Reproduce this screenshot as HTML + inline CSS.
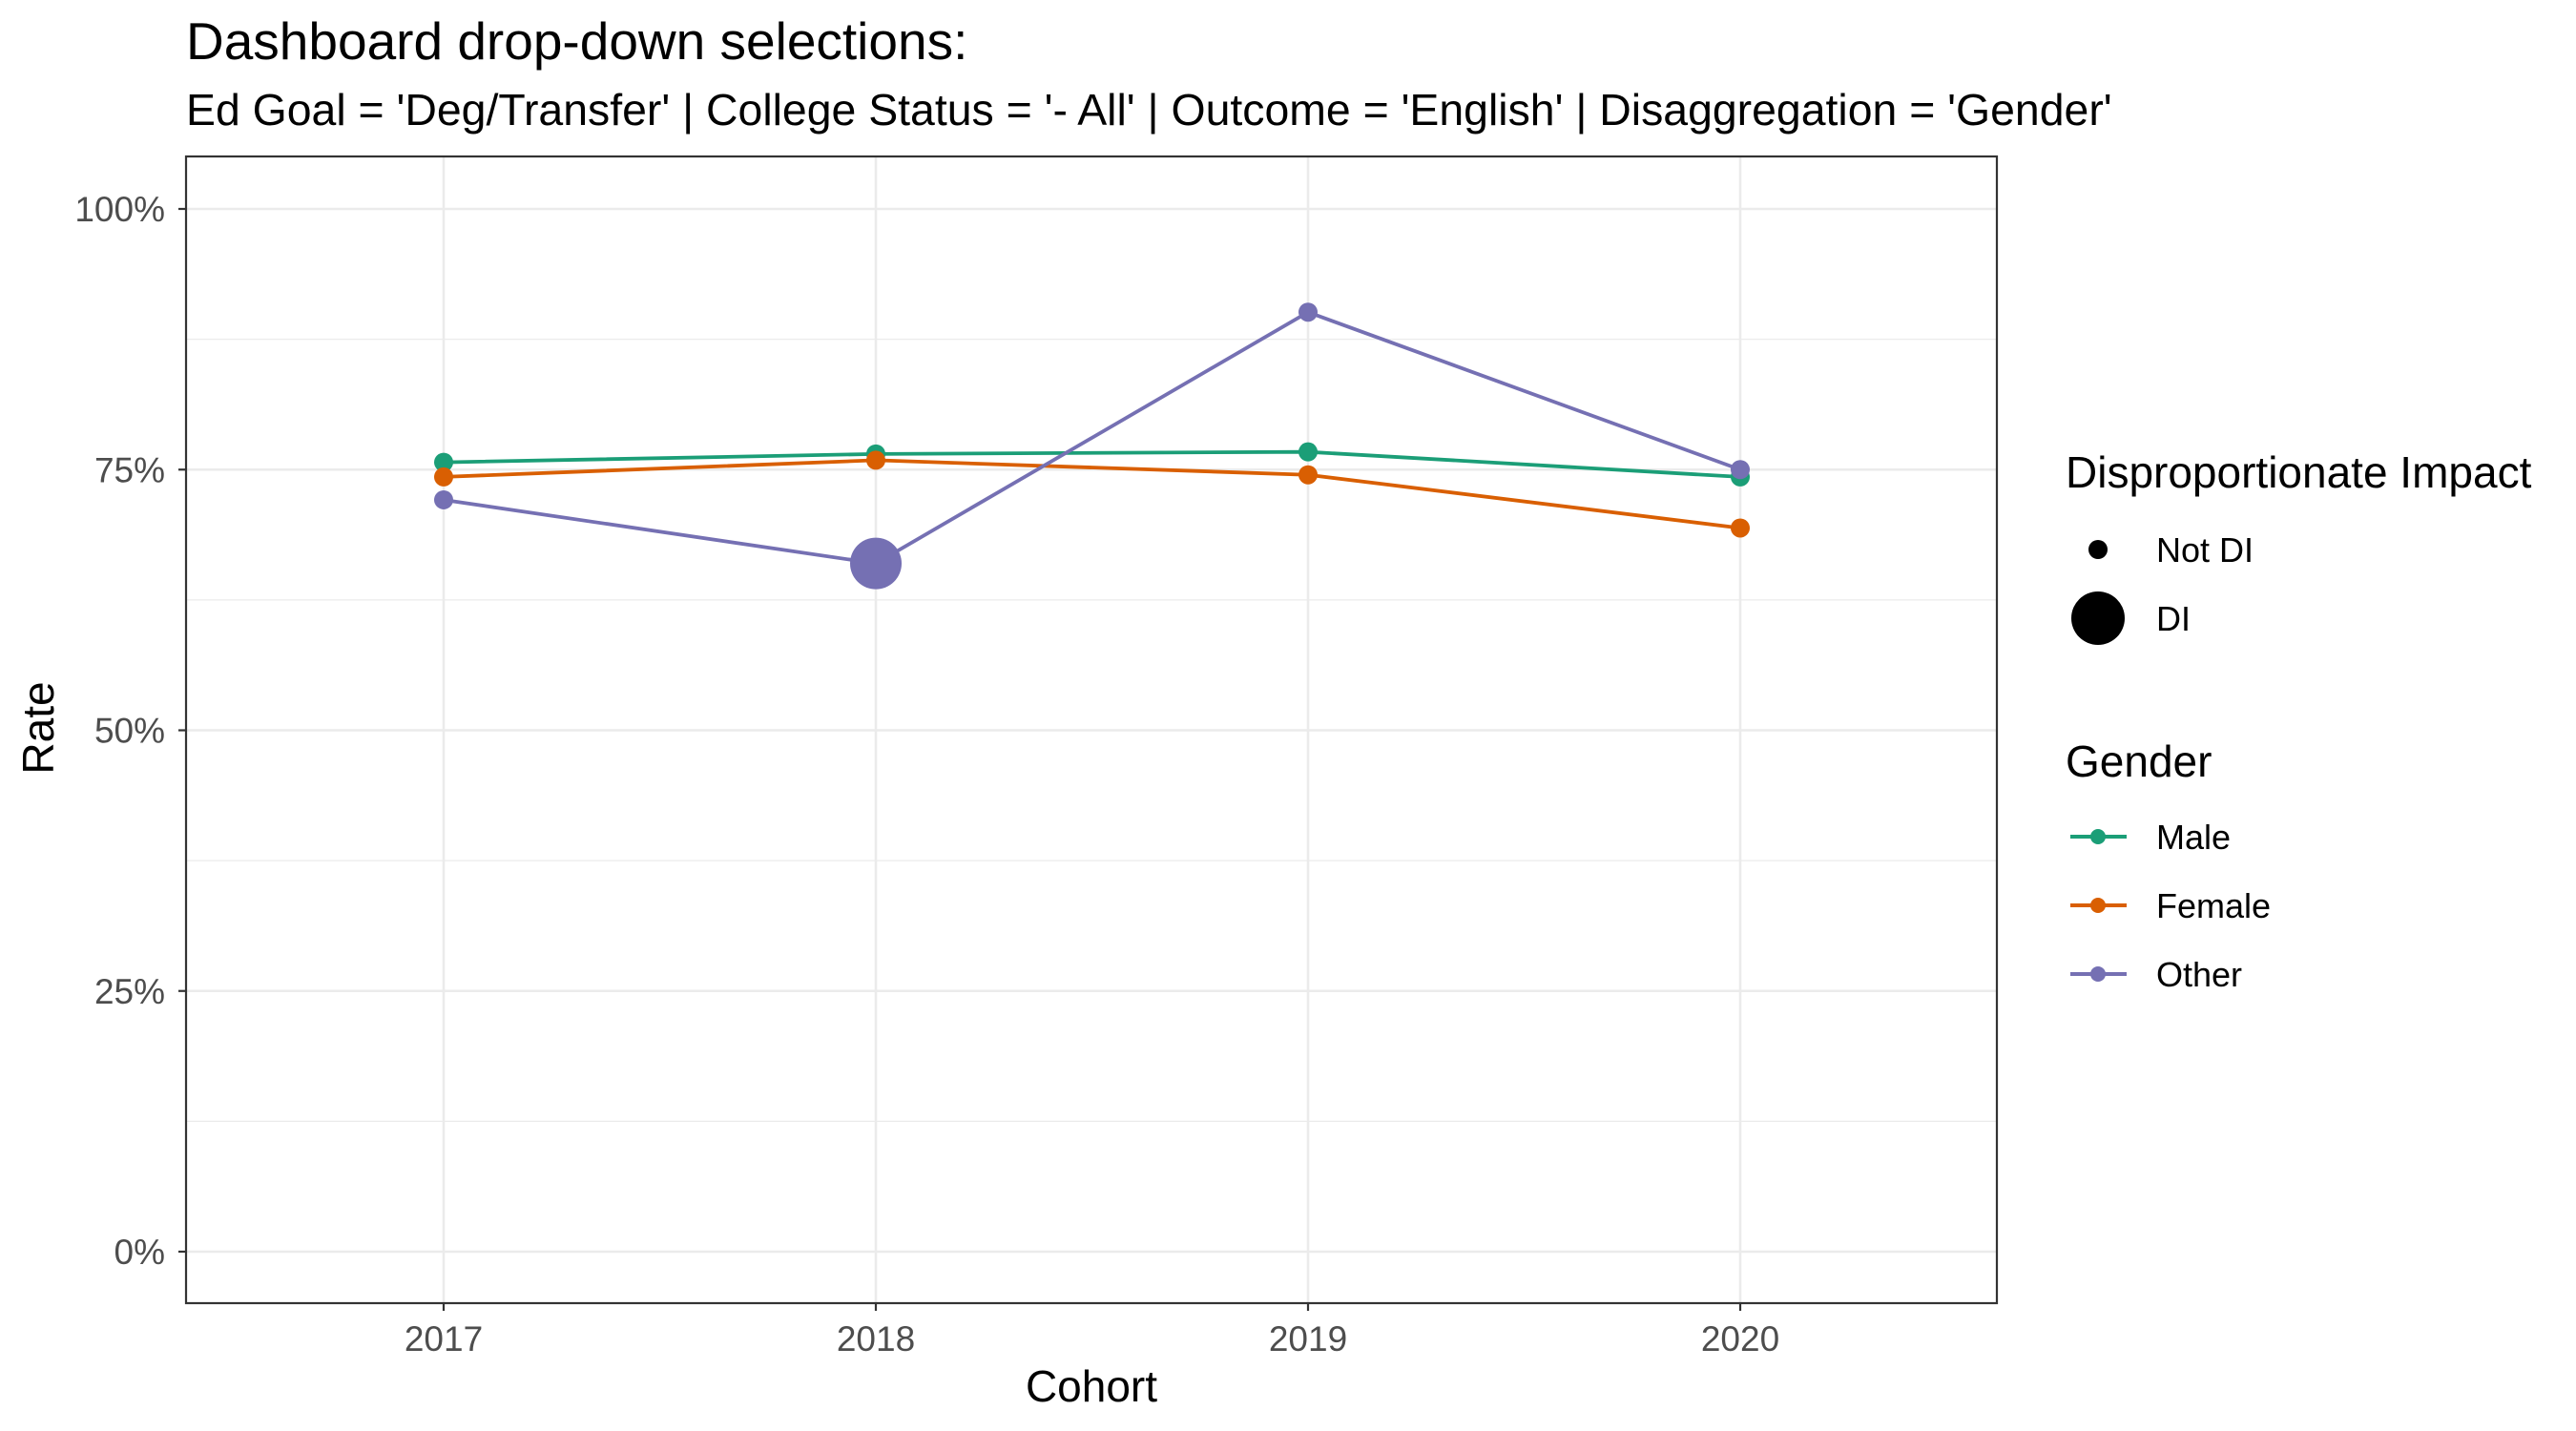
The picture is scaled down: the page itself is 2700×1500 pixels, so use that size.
<!DOCTYPE html>
<html><head><meta charset="utf-8"><style>
html,body{margin:0;padding:0;background:#fff;width:2700px;height:1500px;overflow:hidden}
svg text{font-family:"Liberation Sans",Arial,sans-serif}
</style></head><body>
<svg id="chart" width="2700" height="1500" xmlns="http://www.w3.org/2000/svg">
<text x="195" y="62" font-size="55" fill="#000">Dashboard drop-down selections:</text>
<text x="195" y="131" font-size="46.4" fill="#000">Ed Goal = 'Deg/Transfer' | College Status = '- All' | Outcome = 'English' | Disaggregation = 'Gender'</text>
<g id="grid"></g>
<g id="series"></g>
<rect x="195" y="164" width="1898" height="1202" fill="none" stroke="#333" stroke-width="2.2"/>
<g id="axes"></g>
<text x="1144" y="1469" font-size="46" text-anchor="middle" fill="#000">Cohort</text>
<text transform="translate(56,763) rotate(-90)" font-size="46" text-anchor="middle" fill="#000">Rate</text>
<g>
<text x="2165" y="511" font-size="46">Disproportionate Impact</text>
<circle cx="2199" cy="576" r="10" fill="#000"/>
<text x="2260" y="589" font-size="36">Not DI</text>
<circle cx="2199" cy="648" r="28" fill="#000"/>
<text x="2260" y="661" font-size="36">DI</text>
</g>
<g id="legend-gender">
<text x="2165" y="814" font-size="46">Gender</text>
</g>
</svg>
<script>
const years = [2017, 2018, 2019, 2020];
const seriesNames = ["Male", "Female", "Other"];
const maleValues = [75.7, 76.5, 76.7, 74.3];
const femaleValues = [74.3, 75.9, 74.5, 69.4];
const otherValues = [72.1, 66.0, 90.1, 75.0];
const otherDI = [false, true, false, false];
const yTicks = [0, 25, 50, 75, 100];
const yTickLabels = ["0%", "25%", "50%", "75%", "100%"];
const colors = ["#1b9e77", "#d95f02", "#7570b3"];

const NS = "http://www.w3.org/2000/svg";
const PL = 195, PR = 2093, PT = 164, PB = 1366;
function xs(i){ return 465 + (i) * 453; }
function ys(v){ return 1312 - v * (1312 - 219) / 100; }
function mk(tag, attrs, parent){ const e = document.createElementNS(NS, tag); for (const k in attrs) e.setAttribute(k, attrs[k]); parent.appendChild(e); return e; }

const grid = document.getElementById("grid");
for (let k = 0; k < yTicks.length - 1; k++) {
  const v = (yTicks[k] + yTicks[k+1]) / 2;
  const l = mk("line", {x1: PL, x2: PR, y1: ys(v), y2: ys(v), stroke: "#ebebeb", "stroke-width": 1.2}, grid);
  
  
}
yTicks.forEach(v => {
  const l = mk("line", {x1: PL, x2: PR, y1: ys(v), y2: ys(v), stroke: "#ebebeb", "stroke-width": 2.6}, grid);
  
  
});
years.forEach((y, i) => {
  const l = mk("line", {x1: xs(i), x2: xs(i), y1: PT, y2: PB, stroke: "#ebebeb", "stroke-width": 2.6}, grid);
  
  
});

const axes = document.getElementById("axes");
yTicks.forEach((v, k) => {
  const t = mk("line", {x1: PL - 8, x2: PL, y1: ys(v), y2: ys(v), stroke: "#333", "stroke-width": 2.2}, axes);
  
  
  const tx = mk("text", {x: PL - 22, y: ys(v) + 13, "font-size": 37, fill: "#4d4d4d", "text-anchor": "end"}, axes);
  tx.textContent = yTickLabels[k];
  
  
});
years.forEach((y, i) => {
  const t = mk("line", {x1: xs(i), x2: xs(i), y1: PB, y2: PB + 8, stroke: "#333", "stroke-width": 2.2}, axes);
  
  
  const tx = mk("text", {x: xs(i), y: PB + 50, "font-size": 37, fill: "#4d4d4d", "text-anchor": "middle"}, axes);
  tx.textContent = String(y);
  
  
});

const series = document.getElementById("series");
const allValues = [maleValues, femaleValues, otherValues];
allValues.forEach((vals, s) => {
  const g = mk("g", {}, series);
  
  
  const pts = vals.map((v, i) => xs(i) + "," + ys(v)).join(" ");
  const pl = mk("polyline", {points: pts, fill: "none", stroke: colors[s], "stroke-width": 3.8}, g);
  
  
  vals.forEach((v, i) => {
    const big = (s === 2 && otherDI[i]);
    const c = mk("circle", {cx: xs(i), cy: ys(v), r: big ? 27 : 10, fill: colors[s]}, g);
    
    
  });
});

const lg = document.getElementById("legend-gender");
const legY = [877, 949, 1021];
seriesNames.forEach((n, s) => {
  const l = mk("line", {x1: 2170, x2: 2229, y1: legY[s], y2: legY[s], stroke: colors[s], "stroke-width": 4}, lg);
  
  
  const c = mk("circle", {cx: 2199, cy: legY[s], r: 8, fill: colors[s]}, lg);
  
  
  const t = mk("text", {x: 2260, y: legY[s] + 13, "font-size": 36}, lg);
  t.textContent = n;
  
  
});
</script>
</body></html>
